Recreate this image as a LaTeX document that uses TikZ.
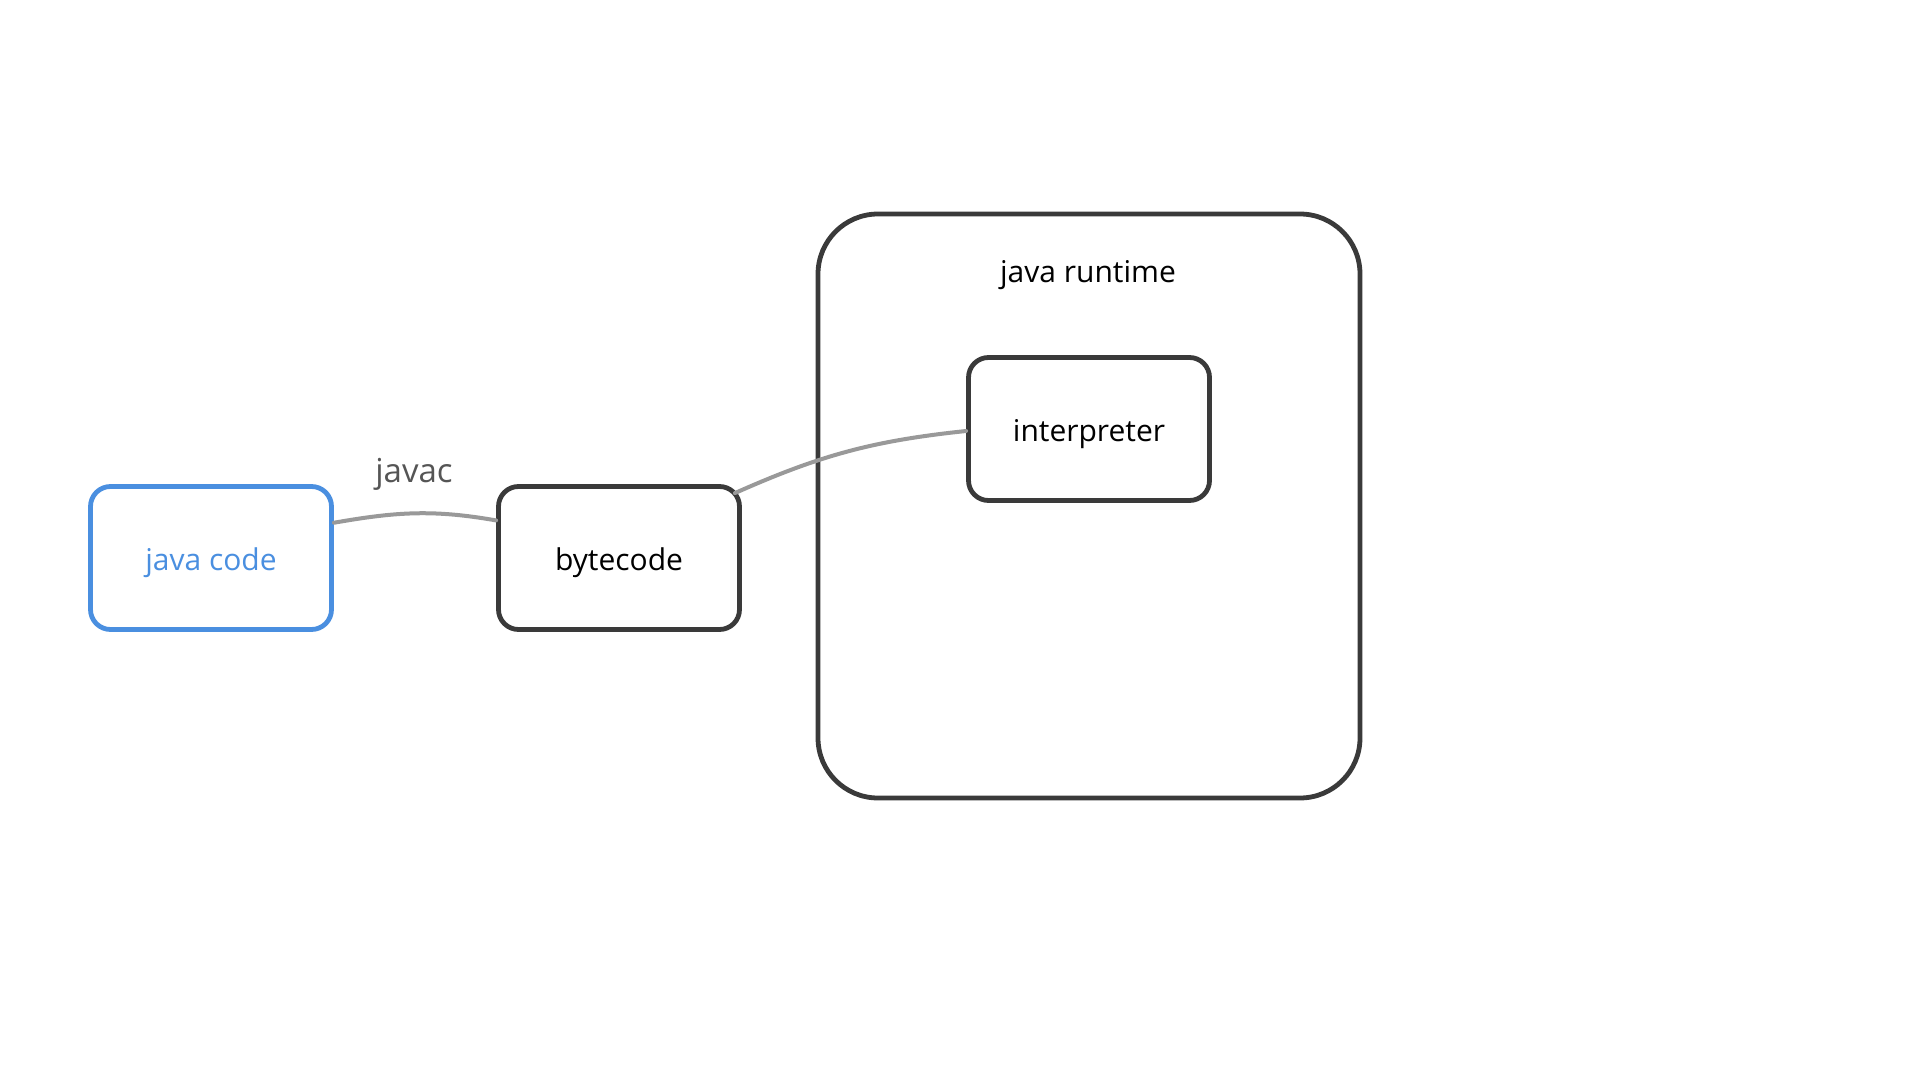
\documentclass[tikz,border=0pt]{standalone}
\usepackage{fontspec}
\setmainfont{Open Sans}
\usetikzlibrary{calc}
\definecolor{ink}{HTML}{3A3A3A}
\definecolor{bluei}{HTML}{4A8FE0}
\definecolor{edgec}{HTML}{999999}
\definecolor{lbl}{HTML}{555555}
\begin{document}
\begin{tikzpicture}[x=0.5pt,y=0.5pt,
  box/.style={draw=ink, line width=2.4pt, rounded corners=10pt,
    minimum width=120.5pt, minimum height=71.5pt, inner sep=0pt,
    text height=13pt, text depth=0.5pt,
    font=\fontsize{15}{18}\selectfont, text=black},
  bluebox/.style={box, draw=bluei, text=bluei},
  bigbox/.style={box, rounded corners=30pt, minimum width=271pt, minimum height=292pt},
  conn/.style={draw=edgec, line width=2pt, line cap=round},
  txt/.style={inner sep=0pt, font=\fontsize{15}{18}\selectfont}]
\useasboundingbox[fill=white] (0,0) rectangle (1920,-1080);
\node[bigbox] (rt) at (1089,-506) {};
\node[txt, text=black] (rtl) at (1088,-275) {java runtime};
\node[bluebox] (jc) at (211,-558) {java code};
\node[box] (bc) at (619,-558) {bytecode};
\node[box] (ip) at (1089,-429) {interpreter};
\node[txt, text=lbl, font=\fontsize{16.5}{20}\selectfont] (jv) at (414,-474) {javac};
\coordinate (bcout) at ($(bc.north east)+(-7,-9)$);
\draw[conn] (jc.16.5) to[out=10,in=170] (bc.163.5);
\draw[conn] (bcout) to[out=24,in=186] ($(ip.west)+(0,-2)$);
\end{tikzpicture}
\end{document}
